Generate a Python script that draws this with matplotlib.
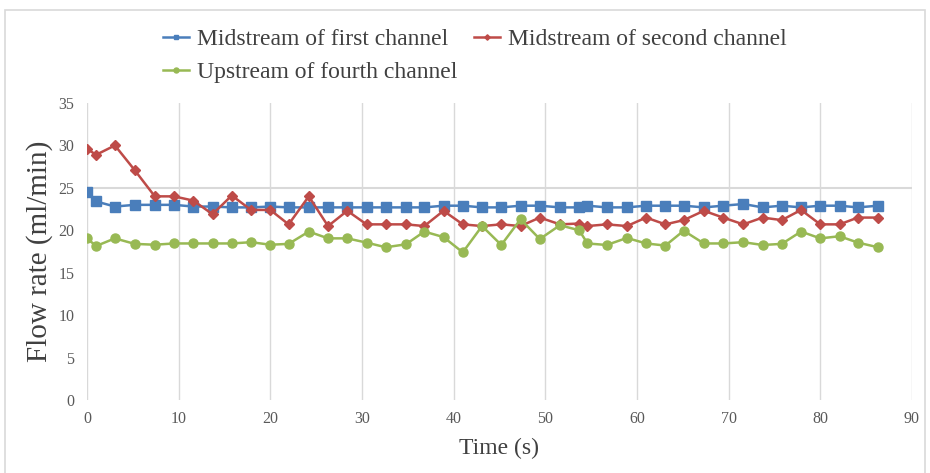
import matplotlib.pyplot as plt
from matplotlib.patches import Rectangle

# Sampling times (s)
time_s = [0, 1.0, 3.05, 5.2, 7.4, 9.5, 11.6, 13.7, 15.8, 17.9, 20.0, 22.0,
          24.2, 26.3, 28.4, 30.5, 32.6, 34.8, 36.8, 38.9, 41.0, 43.1, 45.2,
          47.3, 49.4, 51.6, 53.7, 54.6, 56.7, 58.9, 61.0, 63.1, 65.1, 67.3,
          69.4, 71.6, 73.7, 75.8, 77.9, 80.0, 82.1, 84.1, 86.3]

# Flow rates (ml/min)
mid_first = [24.5, 23.4, 22.8, 23.0, 23.0, 23.0, 22.8, 22.8, 22.7, 22.7, 22.8,
             22.7, 22.7, 22.7, 22.7, 22.7, 22.7, 22.7, 22.7, 22.9, 22.9, 22.7,
             22.7, 22.9, 22.9, 22.7, 22.7, 22.9, 22.7, 22.7, 22.9, 22.9, 22.9,
             22.7, 22.9, 23.1, 22.7, 22.9, 22.7, 22.9, 22.9, 22.7, 22.9]
mid_second = [29.6, 28.9, 30.0, 27.1, 24.0, 24.0, 23.5, 21.9, 24.1, 22.4, 22.4,
              20.7, 24.0, 20.5, 22.3, 20.7, 20.7, 20.7, 20.5, 22.3, 20.7, 20.5,
              20.7, 20.5, 21.5, 20.7, 20.8, 20.5, 20.7, 20.5, 21.5, 20.7, 21.2,
              22.3, 21.5, 20.7, 21.5, 21.2, 22.4, 20.7, 20.7, 21.5, 21.5]
up_fourth = [19.05, 18.15, 19.05, 18.4, 18.3, 18.45, 18.45, 18.45, 18.45, 18.6,
             18.3, 18.4, 19.85, 19.05, 19.05, 18.55, 18.0, 18.35, 19.85, 19.2,
             17.4, 20.5, 18.27, 21.3, 18.97, 20.6, 20.0, 18.45, 18.27, 19.1,
             18.45, 18.2, 19.95, 18.45, 18.45, 18.6, 18.27, 18.4, 19.85, 19.05,
             19.3, 18.55, 18.0]

x_ticks = list(range(0, 100, 10))
y_ticks = list(range(0, 40, 5))

plt.rcParams['font.family'] = ['Liberation Serif', 'DejaVu Serif']

fig = plt.figure(figsize=(9.3, 4.73), dpi=100)
ax = fig.add_axes([0.0935, 0.1543, 0.8871, 0.6279])

# outer chart border
fig.patches.append(Rectangle((5 / 930, -0.05), 920 / 930, 1.05 - 10 / 473,
                             transform=fig.transFigure, fill=False,
                             edgecolor='#D9D9D9', linewidth=1.2))

l1, = ax.plot(time_s, mid_first, color='#4A7EBB', lw=1.8, marker='s',
              markersize=6.5, label='Midstream of first channel')
l2, = ax.plot(time_s, mid_second, color='#BE4B48', lw=1.8, marker='D',
              markersize=5, label='Midstream of second channel')
l3, = ax.plot(time_s, up_fourth, color='#98B954', lw=1.8, marker='o',
              markersize=6.5, label='Upstream of fourth channel')

ax.set_xlim(0, 90)
ax.set_ylim(0, 35)
ax.set_xticks(x_ticks)
ax.set_yticks(y_ticks)
ax.grid(axis='x', color='#D9D9D9', lw=1)
ax.axhline(25, color='#D9D9D9', lw=1.5, zorder=0)
ax.set_axisbelow(True)
for s in ax.spines.values():
    s.set_visible(False)
ax.tick_params(length=0, labelsize=11.5, labelcolor='#595959')
ax.tick_params(axis='y', pad=9)
ax.tick_params(axis='x', pad=8)

ax.set_xlabel('Time (s)', fontsize=17, color='#404040', labelpad=8)
ax.set_ylabel('Flow rate (ml/min)', fontsize=21, color='#404040', labelpad=4)

fig.legend([l1, l3, l2], [l1.get_label(), l3.get_label(), l2.get_label()],
           loc='upper left', bbox_to_anchor=(0.1626, 0.965), ncol=2,
           frameon=False, fontsize=17, markerscale=0.55, handlelength=1.1,
           handletextpad=0.35, columnspacing=0.7, labelspacing=0.5,
           borderpad=0, labelcolor='#404040')

fig.savefig('out.png', dpi=100)
